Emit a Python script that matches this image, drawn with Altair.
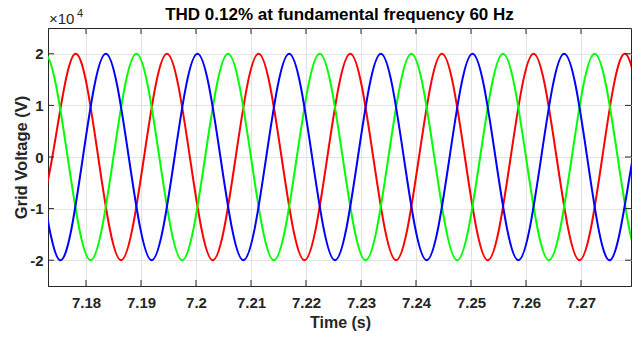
import altair as alt
import pandas as pd

# Key points (time in s, voltage in V): peaks, troughs, zero crossings
red_t = [7.16972, 7.17388, 7.17805, 7.18222, 7.18638, 7.19055, 7.19472, 7.19888, 7.20305, 7.20722,
         7.21138, 7.21555, 7.21972, 7.22388, 7.22805, 7.23222, 7.23638, 7.24055, 7.24472, 7.24888,
         7.25305, 7.25722, 7.26138, 7.26555, 7.26972, 7.27388, 7.27805, 7.28222, 7.28638]
red_v = [-20000, 0, 20000, 0, -20000, 0, 20000, 0, -20000, 0, 20000, 0, -20000, 0, 20000, 0,
         -20000, 0, 20000, 0, -20000, 0, 20000, 0, -20000, 0, 20000, 0, -20000]

blue_t = [7.16694, 7.17111, 7.17527, 7.17944, 7.18361, 7.18777, 7.19194, 7.19611, 7.20027, 7.20444,
          7.20861, 7.21277, 7.21694, 7.22111, 7.22527, 7.22944, 7.23361, 7.23777, 7.24194, 7.24611,
          7.25027, 7.25444, 7.25861, 7.26277, 7.26694, 7.27111, 7.27527, 7.27944, 7.28361]
blue_v = [20000, 0, -20000, 0, 20000, 0, -20000, 0, 20000, 0, -20000, 0, 20000, 0, -20000, 0,
          20000, 0, -20000, 0, 20000, 0, -20000, 0, 20000, 0, -20000, 0, 20000]

green_t = [7.16833, 7.17249, 7.17666, 7.18083, 7.18499, 7.18916, 7.19333, 7.19749, 7.20166, 7.20583,
           7.20999, 7.21416, 7.21833, 7.22249, 7.22666, 7.23083, 7.23499, 7.23916, 7.24333, 7.24749,
           7.25166, 7.25583, 7.25999, 7.26416, 7.26833, 7.27249, 7.27666, 7.28083, 7.28499]
green_v = [0, 20000, 0, -20000, 0, 20000, 0, -20000, 0, 20000, 0, -20000, 0, 20000, 0, -20000,
           0, 20000, 0, -20000, 0, 20000, 0, -20000, 0, 20000, 0, -20000, 0]

x_ticks = [7.18, 7.19, 7.20, 7.21, 7.22, 7.23, 7.24, 7.25, 7.26, 7.27]
y_ticks = [-20000, -10000, 0, 10000, 20000]
x_domain = [7.17309, 7.27909]
y_domain = [-25000, 25000]

title_text = "THD 0.12% at fundamental frequency 60 Hz"

phases = ["Va", "Vc", "Vb"]
colors = ["#FF0000", "#00FF00", "#0000FF"]

rows = []
for name, ts, vs in [("Va", red_t, red_v), ("Vc", green_t, green_v), ("Vb", blue_t, blue_v)]:
    for t, v in zip(ts, vs):
        rows.append({"phase": name, "t": t, "v": v})
df = pd.DataFrame(rows)

W, H = 583, 258
FONT = "Liberation Sans"
AX = "#262626"

x_scale = alt.Scale(domain=x_domain, nice=False, zero=False)
y_scale = alt.Scale(domain=y_domain, nice=False, zero=False)

lines = alt.Chart(df).mark_line(interpolate="natural", strokeWidth=2, clip=True).encode(
    x=alt.X("t:Q", scale=x_scale,
            axis=alt.Axis(values=x_ticks, title="Time (s)", format=".2~f", ticks=False,
                          labelBaseline="alphabetic", labelPadding=21,
                          titleX=292, titleY=41, titleBaseline="alphabetic",
                          titleFontSize=16)),
    y=alt.Y("v:Q", scale=y_scale,
            axis=alt.Axis(values=y_ticks, title="Grid Voltage (V)", ticks=False,
                          labelExpr="datum.value / 10000", labelPadding=5,
                          titleX=-22, titleY=129, titleAngle=270, titleBaseline="alphabetic",
                          titleAlign="center", titleFontSize=16.5)),
    color=alt.Color("phase:N", scale=alt.Scale(domain=phases, range=colors), legend=None),
    order=alt.Order("t:Q"),
)

xt = pd.DataFrame({"x": x_ticks})
yt = pd.DataFrame({"y": y_ticks})
tick_bottom = alt.Chart(xt).mark_rule(color=AX, strokeWidth=1).encode(
    x=alt.X("x:Q", scale=x_scale), y=alt.value(H), y2=alt.value(H - 6))
tick_top = alt.Chart(xt).mark_rule(color=AX, strokeWidth=1).encode(
    x=alt.X("x:Q", scale=x_scale), y=alt.value(0), y2=alt.value(6))
tick_left = alt.Chart(yt).mark_rule(color=AX, strokeWidth=1).encode(
    y=alt.Y("y:Q", scale=y_scale), x=alt.value(0), x2=alt.value(6))
tick_right = alt.Chart(yt).mark_rule(color=AX, strokeWidth=1).encode(
    y=alt.Y("y:Q", scale=y_scale), x=alt.value(W), x2=alt.value(W - 6))

exp_base = alt.Chart(pd.DataFrame({"s": ["\u00d710"]})).mark_text(
    align="left", baseline="alphabetic", font=FONT, fontSize=15, color=AX
).encode(text="s:N", x=alt.value(1), y=alt.value(-4))
exp_pow = alt.Chart(pd.DataFrame({"s": ["4"]})).mark_text(
    align="left", baseline="alphabetic", font=FONT, fontSize=11, color=AX
).encode(text="s:N", x=alt.value(29), y=alt.value(-11))

title = alt.Chart(pd.DataFrame({"s": [title_text]})).mark_text(
    align="center", baseline="alphabetic", font=FONT, fontSize=17, fontWeight="bold",
    color="#000000"
).encode(text="s:N", x=alt.value(W / 2), y=alt.value(-8))

chart = alt.layer(lines, tick_bottom, tick_top, tick_left, tick_right, exp_base, exp_pow,
                  title).properties(
    width=W, height=H,
    autosize=alt.AutoSizeParams(type="none"),
    padding={"left": 48, "top": 28, "right": 1, "bottom": 53},
).configure_view(
    stroke=AX, strokeWidth=1
).configure_axis(
    labelFont=FONT, titleFont=FONT, labelFontSize=15, labelFontWeight="bold",
    titleFontWeight="bold", labelColor=AX, titleColor=AX,
    domainColor=AX, domainWidth=1, gridColor="#e3e3e3", gridWidth=1,
)

chart.save("out.html", embed_options={"renderer": "svg", "actions": False})
